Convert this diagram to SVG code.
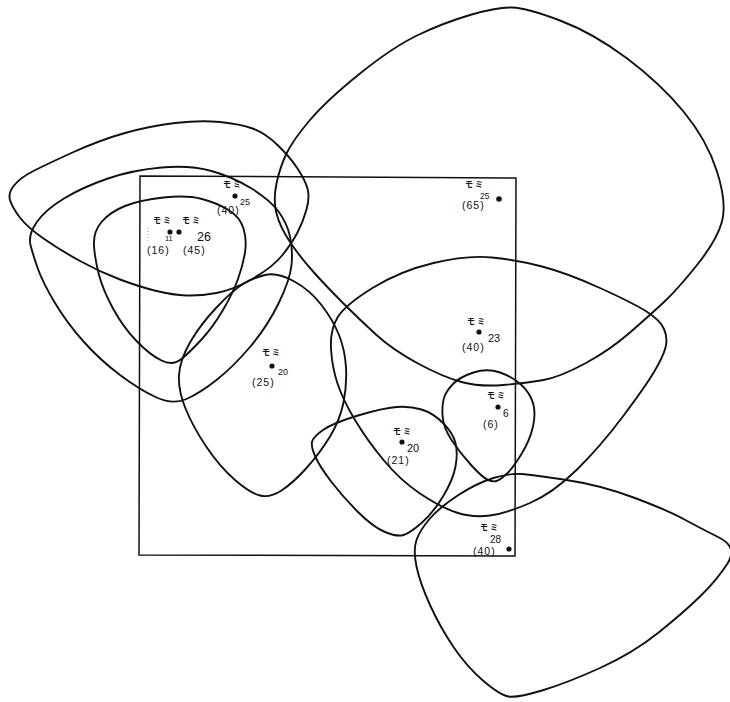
<svg xmlns="http://www.w3.org/2000/svg" width="730" height="702" viewBox="0 0 730 702">
<style>
.bg{fill:#ffffff}
.blob{fill:none;stroke:#111;stroke-width:1.9;stroke-linejoin:round}
.plot{fill:none;stroke:#111;stroke-width:1.5}
.dot{fill:#111}
.mo{font-family:"Noto Sans CJK JP","Noto Sans CJK SC",sans-serif;font-size:8px;font-weight:bold;fill:#111;letter-spacing:2px}
.n{font-family:"Liberation Sans",Arial,sans-serif;fill:#111}
.p{font-family:"Liberation Sans",Arial,sans-serif;font-size:10.5px;fill:#111;letter-spacing:1px}
</style>
<rect class="bg" x="0" y="0" width="730" height="702"/>
<g id="plot">
<polygon class="plot" points="140,176 516,178 515,556 139,555"/>
</g>
<g id="ranges">
<path id="range-big" class="blob" d="M 470,15 Q 497,7 512,7.5 Q 527,8 560,20.5 Q 593,33 626.5,58 Q 660,83 683.5,111.5 Q 707,140 717,171.5 Q 727,203 722,221.5 Q 717,240 697,265 Q 677,290 663.5,302.5 Q 650,315 630,332.5 Q 610,350 585,363.5 Q 560,377 543.5,380 Q 527,383 503.5,385 Q 480,387 461.5,382 Q 443,377 418,363.5 Q 393,350 376.5,335 Q 360,320 343.5,303.5 Q 327,287 313.5,272 Q 300,257 290,242 Q 280,227 276.5,213.5 Q 273,200 276.5,183.5 Q 280,167 286.5,153.5 Q 293,140 310,120 Q 327,100 360,73.5 Q 393,47 418,35 Q 443,23 470,15 Z"/>
<path id="range-l1" class="blob" d="M 10,200 Q 8,193 14,185.5 Q 20,178 32.5,171.5 Q 45,165 72.5,152.5 Q 100,140 125,133 Q 150,126 175,123 Q 200,120 220,122 Q 240,124 252.5,128.5 Q 265,133 277.5,145 Q 290,157 297.5,168.5 Q 305,180 307.5,188.5 Q 310,197 306.5,209.5 Q 303,222 297.5,232.5 Q 292,243 282.5,255 Q 273,267 253,278.5 Q 233,290 216.5,293 Q 200,296 186.5,295.5 Q 173,295 156.5,291 Q 140,287 120,279.5 Q 100,272 80,261 Q 60,250 43.5,238.5 Q 27,227 19.5,217 Q 12,207 10,200 Z"/>
<path id="range-l2" class="blob" d="M 36.5,222.5 Q 28,235 30.5,245 Q 33,255 38,269 Q 43,283 55,303 Q 67,323 83.5,341.5 Q 100,360 120,375 Q 140,390 156.5,397.5 Q 173,405 186.5,399 Q 200,393 216.5,380 Q 233,367 250,347 Q 267,327 278.5,303.5 Q 290,280 291.5,265 Q 293,250 290,236.5 Q 287,223 278.5,211.5 Q 270,200 251.5,188.5 Q 233,177 211.5,171 Q 190,165 161.5,167.5 Q 133,170 108,178.5 Q 83,187 64,198.5 Q 45,210 36.5,222.5 Z"/>
<path id="range-l3" class="blob" d="M 94,246 Q 93,232 101.5,222 Q 110,212 125,206 Q 140,200 163.5,197.5 Q 187,195 202,199 Q 217,203 228.5,210 Q 240,217 243.5,228.5 Q 247,240 245,252.5 Q 243,265 238,279 Q 233,293 223,310 Q 213,327 201.5,339.5 Q 190,352 181.5,359 Q 173,366 161.5,360.5 Q 150,355 136.5,341 Q 123,327 113,308.5 Q 103,290 99,275 Q 95,260 94,246 Z"/>
<path id="range-m" class="blob" d="M 265,275 Q 277,272 293.5,281 Q 310,290 321.5,305 Q 333,320 339,335 Q 345,350 346,367.5 Q 347,385 343.5,402.5 Q 340,420 330,436.5 Q 320,453 306.5,468 Q 293,483 281.5,490.5 Q 270,498 260,495.5 Q 250,493 235,480 Q 220,467 206.5,447 Q 193,427 185.5,408.5 Q 178,390 179,375 Q 180,360 190,342.5 Q 200,325 216.5,307.5 Q 233,290 243,284 Q 253,278 265,275 Z"/>
<path id="range-r" class="blob" d="M 433.5,263 Q 467,255 492,257.5 Q 517,260 542,266.5 Q 567,273 600,288 Q 633,303 646.5,311.5 Q 660,320 664,329 Q 668,338 665.5,347.5 Q 663,357 654,372 Q 645,387 622.5,417 Q 600,447 576.5,470 Q 553,493 530,503 Q 507,513 490,515.5 Q 473,518 456.5,512.5 Q 440,507 420,493.5 Q 400,480 383.5,460 Q 367,440 355,420 Q 343,400 337.5,383.5 Q 332,367 331,348.5 Q 330,330 337.5,317.5 Q 345,305 372.5,288 Q 400,271 433.5,263 Z"/>
<path id="range-s" class="blob" d="M 473.5,372.5 Q 487,368 500,372.5 Q 513,377 521.5,385 Q 530,393 533,403 Q 536,413 533,426.5 Q 530,440 521.5,454 Q 513,468 506.5,474 Q 500,480 496.5,481 Q 493,482 488,480 Q 483,478 471.5,465.5 Q 460,453 451.5,440 Q 443,427 442.5,415 Q 442,403 444.5,396.5 Q 447,390 453.5,383.5 Q 460,377 473.5,372.5 Z"/>
<path id="range-t" class="blob" d="M 312,442 Q 313,437 323,430 Q 333,423 358,415.5 Q 383,408 396.5,407 Q 410,406 421.5,409.5 Q 433,413 443,423 Q 453,433 455.5,443 Q 458,453 455.5,466.5 Q 453,480 443,496.5 Q 433,513 421.5,523 Q 410,533 403.5,535 Q 397,537 385,532 Q 373,527 358,512 Q 343,497 331.5,482 Q 320,467 315.5,457 Q 311,447 312,442 Z"/>
<path id="range-b" class="blob" d="M 493.5,478 Q 510,473 521.5,474 Q 533,475 566.5,480 Q 600,485 633.5,497.5 Q 667,510 683.5,519 Q 700,528 719,537.5 Q 738,547 727.5,563.5 Q 717,580 700,596.5 Q 683,613 658,633 Q 633,653 600,668 Q 567,683 542,690.5 Q 517,698 508.5,696.5 Q 500,695 483.5,681 Q 467,667 453.5,647 Q 440,627 430,605 Q 420,583 416.5,566.5 Q 413,550 416.5,540 Q 420,530 430,518.5 Q 440,507 458.5,495 Q 477,483 493.5,478 Z"/>
</g>
<g id="tree-25-40">
<circle class="dot" cx="235" cy="196" r="2.6"/>
<text class="mo" x="223" y="187">モミ</text>
<text class="n" x="240" y="205" font-size="9">25</text>
<text class="p" x="217" y="214">(40)</text>
</g>
<g id="tree-11-16">
<line x1="148" y1="228" x2="148" y2="243" stroke="#888" stroke-width="0.8" stroke-dasharray="1 2"/>
<circle class="dot" cx="170" cy="232" r="2.6"/>
<text class="mo" x="153" y="223">モミ</text>
<text class="n" x="165" y="241" font-size="7.5">11</text>
<text class="p" x="147" y="254">(16)</text>
</g>
<g id="tree-26-45">
<circle class="dot" cx="179" cy="232" r="2.6"/>
<text class="mo" x="182" y="223">モミ</text>
<text class="n" x="197" y="241" font-size="12.5">26</text>
<text class="p" x="183" y="254">(45)</text>
</g>
<g id="tree-25-65">
<circle class="dot" cx="499" cy="199" r="2.8"/>
<text class="mo" x="465" y="187">モミ</text>
<text class="n" x="480" y="199" font-size="8.5">25</text>
<text class="p" x="462" y="209">(65)</text>
</g>
<g id="tree-23-40">
<circle class="dot" cx="479" cy="332" r="2.6"/>
<text class="mo" x="467" y="324">モミ</text>
<text class="n" x="488" y="342" font-size="11">23</text>
<text class="p" x="462" y="351">(40)</text>
</g>
<g id="tree-20-25">
<circle class="dot" cx="272" cy="366" r="2.6"/>
<text class="mo" x="262" y="355">モミ</text>
<text class="n" x="278" y="375" font-size="9">20</text>
<text class="p" x="252" y="386">(25)</text>
</g>
<g id="tree-6-6">
<circle class="dot" cx="498" cy="407" r="2.6"/>
<text class="mo" x="487" y="398">モミ</text>
<text class="n" x="503" y="417" font-size="10">6</text>
<text class="p" x="483" y="428">(6)</text>
</g>
<g id="tree-20-21">
<circle class="dot" cx="402" cy="442" r="2.6"/>
<text class="mo" x="393" y="434">モミ</text>
<text class="n" x="407" y="452" font-size="11">20</text>
<text class="p" x="387" y="464">(21)</text>
</g>
<g id="tree-28-40">
<circle class="dot" cx="509" cy="549" r="2.6"/>
<text class="mo" x="480" y="530">モミ</text>
<text class="n" x="490" y="543" font-size="10">28</text>
<text class="p" x="473" y="555">(40)</text>
</g>
</svg>
